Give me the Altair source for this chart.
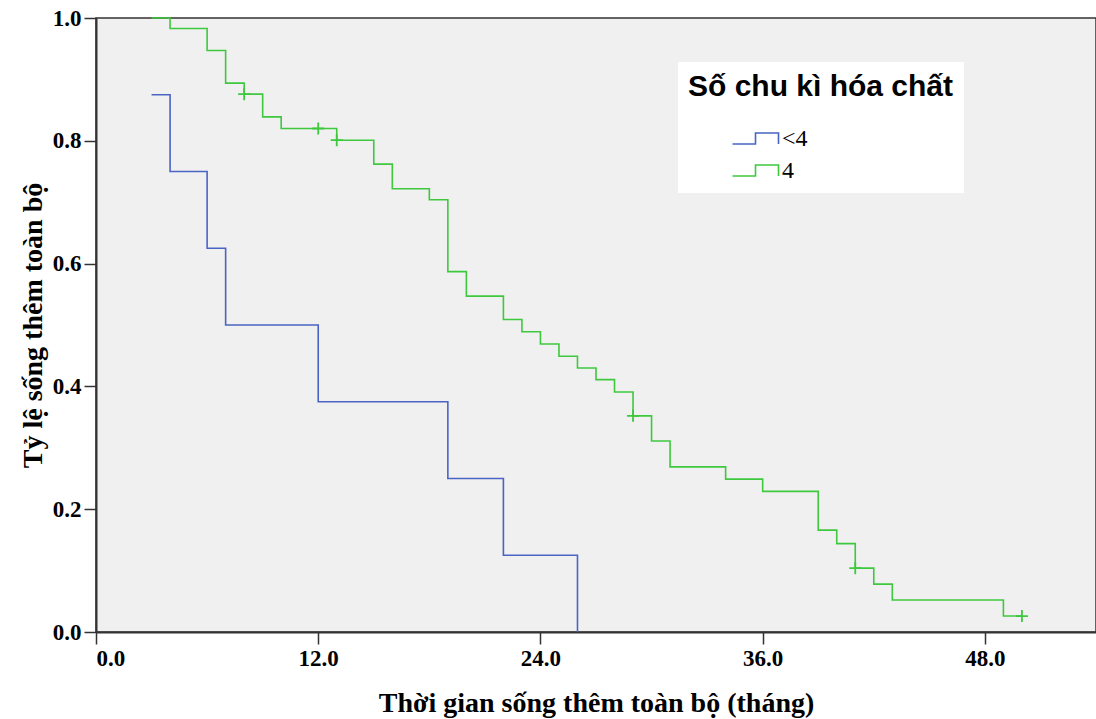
import altair as alt
import pandas as pd

groups = ["<4", "4"]
colors = ["#4a64c4", "#3ec83e"]

# Kaplan-Meier step points (time in months, survival proportion)
t_lt4 = [3, 4, 6, 7, 12, 19, 22, 26]
s_lt4 = [0.875, 0.75, 0.625, 0.5, 0.375, 0.25, 0.125, 0.0]

t_4 = [3, 4, 6, 7, 8, 9, 10, 13, 15, 16, 18, 19, 20, 22, 23, 24, 25, 26, 27, 28,
       29, 30, 31, 34, 36, 39, 40, 41, 42, 43, 49, 50]
s_4 = [1.0, 0.983, 0.947, 0.894, 0.876, 0.839, 0.820, 0.801, 0.762, 0.722, 0.704,
       0.587, 0.547, 0.509, 0.489, 0.469, 0.449, 0.430, 0.411, 0.391, 0.352, 0.311,
       0.269, 0.249, 0.229, 0.166, 0.144, 0.104, 0.078, 0.052, 0.026, 0.026]

# censored observations (+ marks)
cens_t_4 = [8, 12, 13, 29, 41, 50]
cens_s_4 = [0.876, 0.820, 0.801, 0.352, 0.104, 0.026]

x_ticks = [0, 12, 24, 36, 48]
y_ticks = [0.0, 0.2, 0.4, 0.6, 0.8, 1.0]

lines = pd.DataFrame(
    {"t": t_lt4 + t_4, "s": s_lt4 + s_4,
     "g": [groups[0]] * len(t_lt4) + [groups[1]] * len(t_4)}
)
cens = pd.DataFrame({"t": cens_t_4, "s": cens_s_4, "g": [groups[1]] * len(cens_t_4)})

serif = "Liberation Serif"
color_scale = alt.Scale(domain=groups, range=colors)

axis_style = dict(
    grid=False, tickSize=12, tickColor="#333333", tickWidth=1.5,
    domainColor="#333333", domainWidth=2,
    labelFont=serif, labelFontSize=23, labelFontWeight="bold", labelColor="black",
    titleFont=serif, titleFontSize=28, titleFontWeight="bold", titleColor="black",
)

x_enc = alt.X(
    "t:Q",
    scale=alt.Scale(domain=[0, 54], nice=False),
    axis=alt.Axis(values=x_ticks, format=".1f", title="Thời gian sống thêm toàn bộ (tháng)",
                  labelPadding=3, titlePadding=19, **axis_style),
)
y_enc = alt.Y(
    "s:Q",
    scale=alt.Scale(domain=[0, 1], nice=False),
    axis=alt.Axis(values=y_ticks, format=".1f", title="Tỷ lệ sống thêm toàn bộ",
                  labelPadding=3, titlePadding=5, **axis_style),
)

# step-shaped legend symbol, drawn wider than its nominal size
step_sym = "M -2 0.48 H 0 V -0.48 H 2 V 0.48"

line_layer = alt.Chart(lines).mark_line(interpolate="step-after", strokeWidth=1.6).encode(
    x=x_enc,
    y=y_enc,
    order=alt.Order("t:Q"),
    color=alt.Color(
        "g:N",
        scale=color_scale,
        sort=groups,
        legend=alt.Legend(
            title="Số chu kì hóa chất",
            orient="none",
            legendX=582,
            legendY=44,
            fillColor="white",
            padding=10,
            titleFont="Liberation Sans",
            titleFontSize=30,
            titleFontWeight="bold",
            titleColor="black",
            titlePadding=24,
            titleLimit=500,
            labelFont=serif,
            labelFontSize=24,
            labelColor="black",
            labelOffset=14,
            symbolType=step_sym,
            symbolSize=529,
            symbolStrokeWidth=1.6,
            symbolOffset=55,
            rowPadding=7,
        ),
    ),
)

cens_layer = alt.Chart(cens).mark_point(
    shape="M -1 0 H 1 M 0 -1 V 1", size=144, filled=False, strokeWidth=1.8, opacity=1
).encode(
    x="t:Q",
    y="s:Q",
    color=alt.Color("g:N", scale=color_scale, legend=None),
)

chart = alt.layer(line_layer, cens_layer).properties(
    width=1000,
    height=614,
    autosize=alt.AutoSizeParams(type="none"),
    padding={"left": 96, "top": 18, "right": 0, "bottom": 87},
    background="white",
).configure_view(
    fill="#f0f0f0", stroke="#333333", strokeWidth=1.5
)

chart.save("out.html", embed_options={"renderer": "svg", "actions": False})
